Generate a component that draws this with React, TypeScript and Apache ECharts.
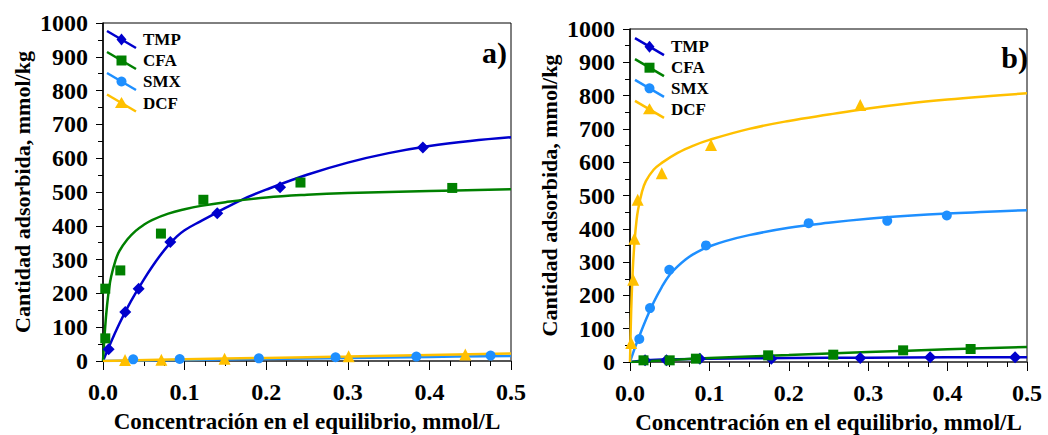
import React, { useEffect, useRef } from "react";
import * as echarts from "echarts";

const FONT = "Liberation Serif";
const SERIES_NAMES = ["TMP", "CFA", "SMX", "DCF"];
const COLORS = ["#0000cd", "#008000", "#1e8fff", "#ffc000"];
const SYMBOLS = ["diamond", "rect", "circle", "triangle"];
const SYMBOL_SIZES = [12, 10, 10, 12];
const X_TICK_LABELS = ["0.0", "0.1", "0.2", "0.3", "0.4", "0.5"];
const X_TITLE = "Concentración en el equilibrio, mmol/L";
const Y_TITLE = "Cantidad adsorbida, mmol/kg";
const PANEL_LABELS = ["a)", "b)"];

// ---------- Panel a) measured points ----------
const tmpA_px = [0.0069, 0.0273, 0.0437, 0.0825, 0.14, 0.217, 0.392];
const tmpA_py = [35, 145, 214, 352, 437, 514, 632];
const cfaA_px = [0.0028, 0.0028, 0.0212, 0.071, 0.123, 0.242, 0.428];
const cfaA_py = [67, 214, 268, 377, 477, 528, 512];
const smxA_px = [0.037, 0.094, 0.191, 0.285, 0.384, 0.475];
const smxA_py = [5, 6, 8, 11, 13, 16];
const dcfA_px = [0.027, 0.0715, 0.149, 0.301, 0.444];
const dcfA_py = [3, 4, 7, 14, 19];

// ---------- Panel a) fitted curves ----------
const tmpA_cx = [0, 0.01, 0.02, 0.03, 0.04, 0.05, 0.06, 0.07, 0.08, 0.09, 0.1, 0.12, 0.14, 0.17, 0.2, 0.25, 0.3, 0.35, 0.4, 0.45, 0.5];
const tmpA_cy = [0, 57, 110, 158, 201, 241, 278, 312, 342, 367, 387, 414, 440, 477, 507, 551, 587, 615, 636, 651, 662];
const cfaA_cx = [0, 0.0025, 0.005, 0.0075, 0.01, 0.015, 0.02, 0.03, 0.04, 0.05, 0.06, 0.08, 0.1, 0.12, 0.15, 0.2, 0.25, 0.3, 0.4, 0.5];
const cfaA_cy = [0, 95, 165, 215, 250, 295, 325, 360, 385, 403, 417, 436, 449, 459, 470, 484, 492, 497, 503, 508];
const smxA_cx = [0, 0.1, 0.2, 0.3, 0.4, 0.5];
const smxA_cy = [0, 3, 6, 9, 12, 15];
const dcfA_cx = [0, 0.1, 0.2, 0.3, 0.4, 0.5];
const dcfA_cy = [0, 5, 9, 13, 18, 22];

// ---------- Panel b) measured points ----------
const tmpB_px = [0.019, 0.046, 0.088, 0.178, 0.29, 0.378, 0.485];
const tmpB_py = [5, 5, 10, 10, 12, 14, 14];
const cfaB_px = [0.017, 0.05, 0.083, 0.174, 0.256, 0.344, 0.429];
const cfaB_py = [5, 5, 10, 20, 22, 35, 39];
const smxB_px = [0.0117, 0.0252, 0.0495, 0.0957, 0.225, 0.324, 0.399];
const smxB_py = [69, 162, 277, 350, 417, 424, 440];
const dcfB_px = [0.0015, 0.004, 0.0055, 0.0097, 0.04, 0.102, 0.29];
const dcfB_py = [57, 247, 370, 487, 567, 652, 772];

// ---------- Panel b) fitted curves ----------
const tmpB_cx = [0, 0.02, 0.05, 0.1, 0.2, 0.3, 0.4, 0.5];
const tmpB_cy = [0, 5, 8, 10, 12, 13, 14, 14];
const cfaB_cx = [0, 0.05, 0.1, 0.2, 0.3, 0.4, 0.5];
const cfaB_cy = [0, 6, 12, 21, 30, 38, 45];
const smxB_cx = [0, 0.005, 0.01, 0.02, 0.03, 0.04, 0.05, 0.06, 0.07, 0.08, 0.09, 0.1, 0.12, 0.15, 0.2, 0.25, 0.3, 0.35, 0.4, 0.45, 0.5];
const smxB_cy = [0, 35, 67, 127, 180, 225, 262, 287, 308, 324, 337, 347, 363, 381, 403, 418, 430, 439, 446, 451, 456];
const dcfB_cx = [0, 0.001, 0.002, 0.003, 0.004, 0.006, 0.008, 0.01, 0.015, 0.02, 0.03, 0.04, 0.06, 0.08, 0.1, 0.15, 0.2, 0.25, 0.3, 0.35, 0.4, 0.45, 0.5];
const dcfB_cy = [0, 110, 190, 250, 300, 370, 420, 455, 510, 543, 578, 598, 628, 650, 667, 700, 724, 743, 761, 776, 788, 798, 807];

const PANELS = [
  {
    points: [[tmpA_px, tmpA_py], [cfaA_px, cfaA_py], [smxA_px, smxA_py], [dcfA_px, dcfA_py]],
    curves: [[tmpA_cx, tmpA_cy], [cfaA_cx, cfaA_cy], [smxA_cx, smxA_cy], [dcfA_cx, dcfA_cy]],
  },
  {
    points: [[tmpB_px, tmpB_py], [cfaB_px, cfaB_py], [smxB_px, smxB_py], [dcfB_px, dcfB_py]],
    curves: [[tmpB_cx, tmpB_cy], [cfaB_cx, cfaB_cy], [smxB_cx, smxB_cy], [dcfB_cx, dcfB_cy]],
  },
];

const GRIDS = [
  { left: 103, top: 23, width: 408, height: 338 },
  { left: 630, top: 29, width: 397, height: 333 },
];
const LEGEND_POS = [
  { x: 107, ys: [39.5, 60.5, 81.5, 103] },
  { x: 635, ys: [46.7, 67.7, 88.3, 109.3] },
];
const PANEL_LABEL_POS = [
  { x: 507, y: 52 },
  { x: 1028, y: 57 },
];

const zip = (xs: number[], ys: number[]) => xs.map((x, i) => [x, ys[i]]);

function legendMarker(kind: number, cx: number, cy: number, color: string): any {
  const s = 5;
  if (kind === 0)
    return { type: "polygon", shape: { points: [[cx, cy - 6], [cx + 5, cy], [cx, cy + 6], [cx - 5, cy]] }, style: { fill: color } };
  if (kind === 1)
    return { type: "rect", shape: { x: cx - s, y: cy - s, width: 2 * s, height: 2 * s }, style: { fill: color } };
  if (kind === 2)
    return { type: "circle", shape: { cx, cy, r: s }, style: { fill: color } };
  return { type: "polygon", shape: { points: [[cx, cy - 6], [cx + 6.5, cy + 5], [cx - 6.5, cy + 5]] }, style: { fill: color } };
}

export default function App() {
  const ref = useRef<HTMLDivElement>(null);
  useEffect(() => {
    document.body.style.margin = "0";
    if (!ref.current) return;
    const chart = echarts.init(ref.current, undefined, { renderer: "svg" });

    const grids = GRIDS.map((g) => ({
      ...g,
      show: true,
      borderColor: "#000",
      borderWidth: 1,
      backgroundColor: "transparent",
      containLabel: false,
      outerBoundsMode: "none",
    }));

    const xAxes = GRIDS.map((_, gi) => ({
      type: "value",
      gridIndex: gi,
      min: 0,
      max: 0.5,
      interval: 0.1,
      name: X_TITLE,
      nameLocation: "middle",
      nameGap: 49,
      nameTextStyle: { fontFamily: FONT, fontSize: 23, fontWeight: "bold", color: "#000" },
      axisLine: { show: true, onZero: false, lineStyle: { color: "#444", width: 1.5 } },
      axisTick: { show: true, inside: false, length: 9, lineStyle: { color: "#000", width: 1 } },
      minorTick: { show: true, splitNumber: 4, length: 5, lineStyle: { color: "#000", width: 1 } },
      splitLine: { show: false },
      axisLabel: {
        margin: 19,
        fontFamily: FONT,
        fontSize: 24,
        fontWeight: "bold",
        color: "#000",
        formatter: (v: number) => X_TICK_LABELS[Math.round(v * 10)] ?? v.toFixed(1),
      },
    }));

    const yAxes = GRIDS.map((_, gi) => ({
      type: "value",
      gridIndex: gi,
      min: 0,
      max: 1000,
      interval: 100,
      name: Y_TITLE,
      nameLocation: "middle",
      nameGap: 70,
      nameTextStyle: { fontFamily: FONT, fontSize: 22, fontWeight: "bold", color: "#000" },
      axisLine: { show: true, lineStyle: { color: "#000", width: 1.5 } },
      axisTick: { show: true, inside: false, length: 7, lineStyle: { color: "#000", width: 1 } },
      minorTick: { show: true, splitNumber: 2, length: 5, lineStyle: { color: "#000", width: 1 } },
      splitLine: { show: false },
      axisLabel: {
        margin: 15,
        fontFamily: FONT,
        fontSize: 24,
        fontWeight: "bold",
        color: "#000",
        formatter: (v: number) => String(v),
      },
    }));

    const series: any[] = [];
    PANELS.forEach((p, gi) => {
      p.curves.forEach(([xs, ys], si) => {
        series.push({
          type: "line",
          name: SERIES_NAMES[si] + " fit",
          xAxisIndex: gi,
          yAxisIndex: gi,
          data: zip(xs, ys),
          showSymbol: false,
          symbol: "none",
          smooth: 0.4,
          lineStyle: { color: COLORS[si], width: 2.5 },
          z: 3,
        });
      });
      p.points.forEach(([xs, ys], si) => {
        series.push({
          type: "scatter",
          name: SERIES_NAMES[si],
          xAxisIndex: gi,
          yAxisIndex: gi,
          data: zip(xs, ys),
          symbol: SYMBOLS[si],
          symbolSize: SYMBOL_SIZES[si],
          itemStyle: { color: COLORS[si], opacity: 1 },
          z: 4,
        });
      });
    });

    const graphic: any[] = [];
    LEGEND_POS.forEach((lp, gi) => {
      lp.ys.forEach((yc, si) => {
        graphic.push({
          type: "line",
          shape: { x1: lp.x, y1: yc - 8.5, x2: lp.x + 29, y2: yc + 8.5 },
          style: { stroke: COLORS[si], lineWidth: 2.5 },
          z: 10,
        });
        graphic.push({ ...legendMarker(si, lp.x + 14.5, yc, COLORS[si]), z: 11 });
        graphic.push({
          type: "text",
          x: lp.x + 36,
          y: yc,
          style: {
            text: SERIES_NAMES[si],
            fill: "#000",
            fontFamily: FONT,
            fontSize: 17,
            fontWeight: "bold",
            verticalAlign: "middle",
          },
          z: 11,
        });
      });
      graphic.push({
        type: "text",
        x: PANEL_LABEL_POS[gi].x,
        y: PANEL_LABEL_POS[gi].y,
        style: {
          text: PANEL_LABELS[gi],
          fill: "#000",
          fontFamily: FONT,
          fontSize: 30,
          fontWeight: "bold",
          align: "right",
          verticalAlign: "middle",
        },
        z: 11,
      });
    });

    chart.setOption({
      animation: false,
      backgroundColor: "#fff",
      grid: grids,
      xAxis: xAxes,
      yAxis: yAxes,
      series,
      graphic,
    });
    return () => chart.dispose();
  }, []);
  return <div ref={ref} style={{ width: 1048, height: 435 }} />;
}
